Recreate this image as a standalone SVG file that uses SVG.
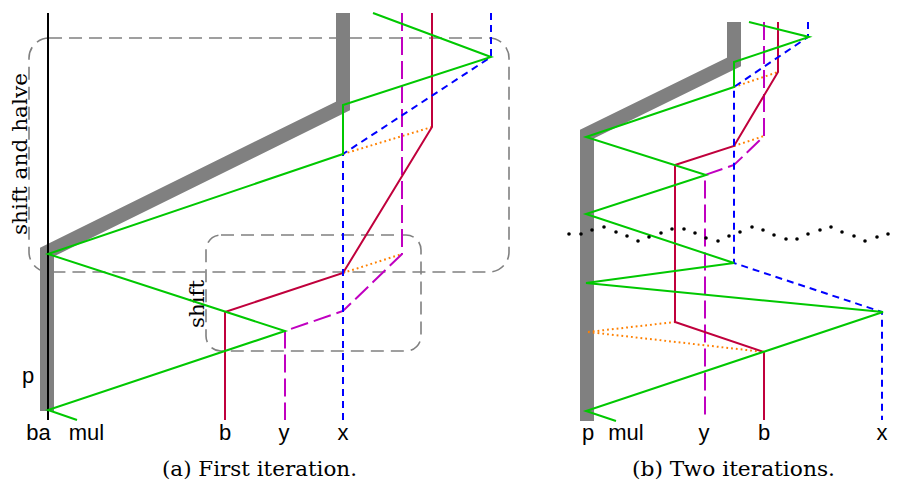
<svg xmlns="http://www.w3.org/2000/svg" width="898" height="483" viewBox="0 0 898 483">
<style>
.bar{fill:none;stroke:#808080;stroke-width:14;stroke-linejoin:miter;stroke-miterlimit:10}
.grn{fill:none;stroke:#00c800;stroke-width:2;stroke-linejoin:miter}
.blu{fill:none;stroke:#0000ff;stroke-width:2;stroke-dasharray:7 5}
.crm{fill:none;stroke:#c0003c;stroke-width:2}
.mag{fill:none;stroke:#c000c0;stroke-width:2;stroke-dasharray:18 6}
.org{fill:none;stroke:#ff8000;stroke-width:2;stroke-dasharray:1.8 3}
.box{fill:none;stroke:#808080;stroke-width:1.6;stroke-dasharray:13 7}
.sans{font-family:"Liberation Sans",Arial,sans-serif;font-size:22px;fill:#000;text-anchor:middle}
.serif{font-family:"DejaVu Serif","Liberation Serif",serif;font-size:21px;fill:#000;text-anchor:middle}
</style>
<rect width="898" height="483" fill="#fff"/>
<g id="panel-a">
  <g id="a-shift-and-halve">
    <rect class="box" x="29" y="38" width="480" height="234" rx="20"/>
    <text class="serif" transform="translate(27,154) rotate(-90)" textLength="162" lengthAdjust="spacingAndGlyphs">shift and halve</text>
  </g>
  <g id="a-shift">
    <rect class="box" x="206" y="235" width="215" height="116" rx="15"/>
    <text class="serif" transform="translate(204,304) rotate(-90)" textLength="48" lengthAdjust="spacingAndGlyphs">shift</text>
  </g>
  <g id="a-connectors">
    <path class="bar" d="M343,13 V106 L47,252 V411"/>
    <line x1="48" y1="13" x2="48" y2="420" stroke="#000" stroke-width="2"/>
    <path class="org" d="M343,154 L432,127 M343,273 L402,254"/>
    <path class="mag" d="M402,13 V254 L343,311 L285,331 V420"/>
    <path class="crm" d="M432,13 V127 L343,273 L225,312 V420"/>
    <path class="blu" d="M491,13 V57 L343,154 V420"/>
    <path class="grn" d="M373,13 L491,57 L343,105 V154 L48,254 L285,331 L48,410 L77,420"/>
  </g>
  <g id="a-labels">
    <text class="sans" x="28" y="383">p</text>
    <text class="sans" x="38.5" y="440">ba</text>
    <text class="sans" x="86.5" y="440">mul</text>
    <text class="sans" x="225" y="440">b</text>
    <text class="sans" x="284" y="440">y</text>
    <text class="sans" x="343" y="440">x</text>
    <text class="serif" x="259.5" y="476" textLength="195" lengthAdjust="spacingAndGlyphs">(a) First iteration.</text>
  </g>
</g>
<g id="panel-b">
  <g id="b-connectors">
    <path class="bar" d="M734,22 V62 L587,134 V421"/>
    <path class="org" d="M734,87 L778,72 M734,146 L764,136 M588,332 L675,322 M588,332 L764,352"/>
    <path class="mag" d="M764,22 V136 L734,165 L705,175 V420"/>
    <path class="crm" d="M778,22 V72 L734,146 L675,165 V322 L764,352 V420"/>
    <path class="blu" d="M808,22 V37 L734,87 V263 L882,312 V420"/>
    <path class="grn" d="M749,22 L809,37 L734,62 V87 L586,137 L706,175 L586,214 L734,263 L586,283 L883,312 L586,411 L616,421"/>
  </g>
  <g id="b-cut" fill="#000">
    <circle cx="569" cy="234" r="1.8"/><circle cx="581" cy="234" r="1.8"/><circle cx="592" cy="230" r="1.8"/><circle cx="604" cy="227" r="1.8"/><circle cx="616" cy="232" r="1.8"/><circle cx="627" cy="236" r="1.8"/><circle cx="638" cy="241" r="1.8"/><circle cx="649" cy="237" r="1.8"/><circle cx="661" cy="233" r="1.8"/><circle cx="672" cy="229" r="1.8"/><circle cx="684" cy="229" r="1.8"/><circle cx="695" cy="233" r="1.8"/><circle cx="706" cy="238" r="1.8"/><circle cx="718" cy="241" r="1.8"/><circle cx="729" cy="236" r="1.8"/><circle cx="740" cy="232" r="1.8"/><circle cx="752" cy="227" r="1.8"/><circle cx="763" cy="230" r="1.8"/><circle cx="774" cy="235" r="1.8"/><circle cx="786" cy="239" r="1.8"/><circle cx="797" cy="239" r="1.8"/><circle cx="808" cy="234" r="1.8"/><circle cx="820" cy="230" r="1.8"/><circle cx="831" cy="227" r="1.8"/><circle cx="842" cy="232" r="1.8"/><circle cx="854" cy="236" r="1.8"/><circle cx="865" cy="241" r="1.8"/><circle cx="877" cy="237" r="1.8"/><circle cx="888" cy="234" r="1.8"/>
  </g>
  <g id="b-labels">
    <text class="sans" x="588" y="440">p</text>
    <text class="sans" x="626" y="440">mul</text>
    <text class="sans" x="704" y="440">y</text>
    <text class="sans" x="764" y="440">b</text>
    <text class="sans" x="882" y="440">x</text>
    <text class="serif" x="733.5" y="476" textLength="203" lengthAdjust="spacingAndGlyphs">(b) Two iterations.</text>
  </g>
</g>
</svg>
